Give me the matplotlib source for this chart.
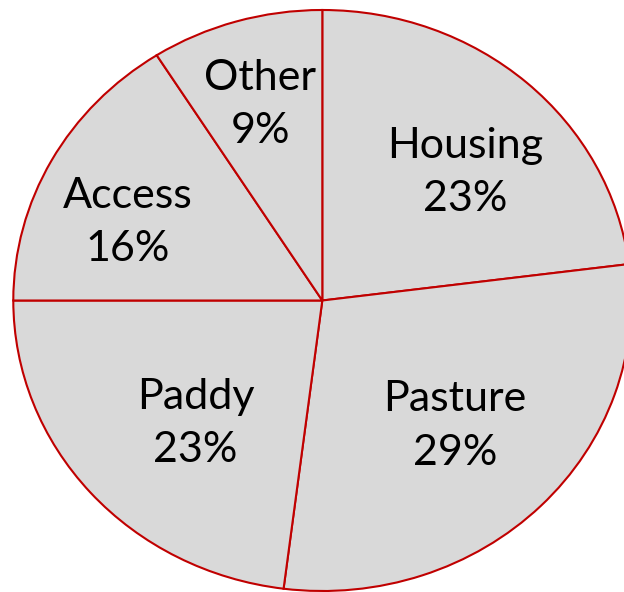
import matplotlib
matplotlib.use("Agg")
import matplotlib.pyplot as plt

# dados do grafico
categorias = ["Housing", "Pasture", "Paddy", "Access", "Other"]
percentagens = [23, 29, 23, 16, 9]

plt.rcParams['font.family'] = ['Lato', 'DejaVu Sans']

fig = plt.figure(figsize=(6.24, 5.92), dpi=100)
# eixo maior que a figura: a elipse fica cortada a direita e em baixo
ax = fig.add_axes([13.3 / 624, 1 / 592, 618 / 624, 581 / 592])

rotulos = [f"{c}\n{p}%" for c, p in zip(categorias, percentagens)]
fatias, textos = ax.pie(
    percentagens,
    labels=rotulos,
    startangle=90,
    counterclock=False,
    labeldistance=0.64,
    colors=["#D9D9D9"] * len(percentagens),
    wedgeprops=dict(edgecolor="#C00000", linewidth=1.5),
    textprops=dict(fontsize=31, color="black", linespacing=1.5),
)

# pequenos acertos na posicao dos rotulos (estilo Excel)
ajustes = [(0.04, -0.04), (-0.023, 0.02), (0.07, 0.0), (-0.07, -0.04), (-0.023, 0.06)]
for t, (dx, dy) in zip(textos, ajustes):
    x, y = t.get_position()
    t.set_position((x + dx, y + dy))
    t.set_horizontalalignment("center")
    t.set_verticalalignment("center")
    t.set_clip_on(False)

ax.set_aspect("auto")
ax.set_xlim(-1, 1)
ax.set_ylim(-1, 1)
for f in fatias:
    f.set_clip_on(False)

fig.savefig("out.png", dpi=100)
